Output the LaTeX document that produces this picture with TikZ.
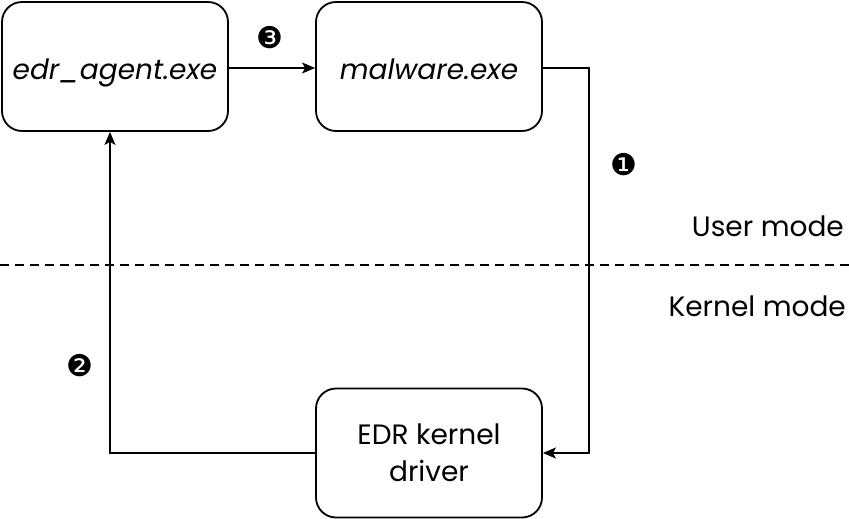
\documentclass[tikz,border=0pt]{standalone}
\usepackage{fontspec}
\setmainfont{Poppins}
\newfontfamily\dingfont{DejaVu Sans}
\usetikzlibrary{arrows.meta}
\begin{document}
\begin{tikzpicture}[x=1pt,y=-1pt,
  box/.style={draw, line width=1.8pt, rounded corners=20pt, minimum width=226pt, minimum height=129pt, inner sep=0pt, align=center, font=\fontsize{28}{37}\selectfont},
  conn/.style={line width=1.3pt, -{Stealth[length=13pt,width=11pt,inset=3pt]}},
  num/.style={font=\dingfont\fontsize{30}{30}\selectfont, inner sep=0pt},
  lbl/.style={font=\fontsize{28}{34}\selectfont, inner sep=0pt, anchor=east}]
\useasboundingbox (0,0) rectangle (849,519);
\node[box, text height=30pt, text depth=3pt] (agent) at (115,66.5) {\itshape edr\_agent.exe};
\node[box, text height=30pt, text depth=3pt] (mal) at (429,66.5) {\itshape malware.exe};
\node[box] (drv) at (429,453) {EDR kernel\\driver};
\coordinate (c1) at (589,68);
\coordinate (c2) at (589,453);
\coordinate (c3) at (110,453);
\draw[conn] (agent.east |- 0,68) -- (mal.west |- 0,68);
\draw[conn] (mal.east |- 0,68) -- (c1) -- (c2) -- (drv.east |- c2);
\draw[conn] (drv.west |- c3) -- (c3) -- (agent.south -| c3);
\node[num] (n1) at (624,165) {❶};
\node[num] (n2) at (80,366) {❷};
\node[num] (n3) at (270,38) {❸};
\coordinate (d1) at (0,265);
\coordinate (d2) at (849,265);
\draw[line width=1.3pt, dash pattern=on 9pt off 6pt] (d1) -- (d2);
\node[lbl] (um) at (844,226) {User mode};
\node[lbl] (km) at (846,306) {Kernel mode};
\end{tikzpicture}
\end{document}
